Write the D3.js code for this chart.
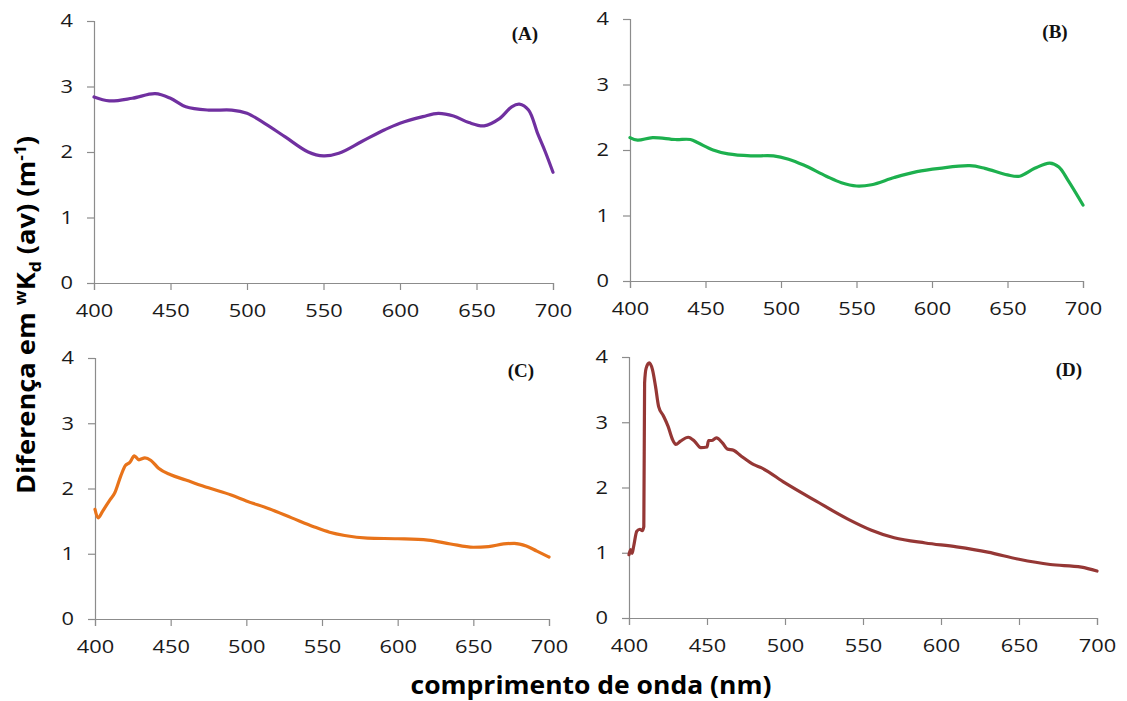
<!DOCTYPE html>
<html>
<head>
<meta charset="utf-8">
<script src="https://cdn.jsdelivr.net/npm/d3@7"></script>
<style>
  html, body { margin: 0; padding: 0; background: #fff; }
  svg { display: block; }
  .tick text { font-family: "Open Sans", "Noto Sans", sans-serif; font-size: 18.5px; fill: #1a1a1a; }
  .domain, .tick line { stroke: #8c8c8c; stroke-width: 1.2; }
</style>
</head>
<body>
<svg id="chart" width="1127" height="701"></svg>
<script>
// Wavelength ticks and value ticks shared by all four panels
const xTicks = [400, 450, 500, 550, 600, 650, 700];
const yTicks = [0, 1, 2, 3, 4];

// (A) difference spectrum
const wlA  = [400, 410, 425, 440, 450, 460, 475, 490, 500, 510, 525, 540, 550, 560, 575, 590, 600, 615, 625, 635, 645, 655, 665, 673, 678, 684, 690, 695, 700];
const valA = [2.84, 2.78, 2.82, 2.89, 2.82, 2.69, 2.64, 2.64, 2.59, 2.46, 2.23, 2.00, 1.94, 1.98, 2.16, 2.34, 2.44, 2.54, 2.59, 2.55, 2.45, 2.40, 2.51, 2.69, 2.73, 2.64, 2.28, 2.00, 1.69];

// (B) difference spectrum
const wlB  = [400, 405, 415, 430, 440, 445, 455, 465, 480, 495, 505, 515, 530, 540, 550, 560, 575, 590, 605, 625, 635, 650, 658, 668, 678, 684, 690, 700];
const valB = [2.19, 2.15, 2.19, 2.16, 2.16, 2.11, 2.00, 1.94, 1.91, 1.91, 1.86, 1.77, 1.60, 1.50, 1.45, 1.47, 1.58, 1.67, 1.72, 1.76, 1.72, 1.62, 1.60, 1.72, 1.80, 1.74, 1.54, 1.16];

// (C) difference spectrum
const wlC  = [400, 402, 405, 410, 413, 417, 420, 423, 426, 429, 433, 437, 442, 450, 460, 475, 490, 500, 515, 530, 545, 555, 565, 580, 600, 620, 635, 650, 660, 670, 677, 685, 692, 700];
const valC = [1.68, 1.55, 1.65, 1.83, 1.93, 2.19, 2.35, 2.40, 2.50, 2.44, 2.47, 2.43, 2.31, 2.21, 2.13, 2.01, 1.90, 1.81, 1.69, 1.55, 1.41, 1.33, 1.28, 1.24, 1.23, 1.21, 1.15, 1.10, 1.11, 1.15, 1.16, 1.12, 1.04, 0.95];

// (D) difference spectrum
const wlD  = [400, 401, 402, 403, 405, 407, 408.5, 409.5, 410, 411, 413, 415, 417, 419, 422, 425, 428, 430, 433, 438, 442, 446, 450, 451, 453, 456, 460, 463, 467, 472, 480, 485, 500, 520, 540, 555, 570, 590, 610, 630, 650, 670, 690, 700];
const valD = [0.97, 1.05, 0.99, 1.10, 1.33, 1.36, 1.34, 1.40, 3.60, 3.83, 3.91, 3.81, 3.55, 3.24, 3.10, 2.94, 2.73, 2.66, 2.71, 2.77, 2.71, 2.61, 2.62, 2.72, 2.72, 2.76, 2.68, 2.59, 2.57, 2.48, 2.35, 2.30, 2.07, 1.79, 1.52, 1.35, 1.23, 1.15, 1.09, 1.01, 0.90, 0.82, 0.78, 0.72];

const panelLabels = ["(A)", "(B)", "(C)", "(D)"];

// Panel frames (plot area in page pixels) and line styles
const panels = [
  { wl: wlA, val: valA, label: panelLabels[0], color: "#7030A0", x0: 94,  x1: 553,  y0: 283, y1: 21,  curve: d3.curveCatmullRom.alpha(0.5) },
  { wl: wlB, val: valB, label: panelLabels[1], color: "#1DB04E", x0: 630, x1: 1083, y0: 281, y1: 19,  curve: d3.curveCatmullRom.alpha(0.5) },
  { wl: wlC, val: valC, label: panelLabels[2], color: "#E8731A", x0: 95,  x1: 549,  y0: 619, y1: 358, curve: d3.curveMonotoneX },
  { wl: wlD, val: valD, label: panelLabels[3], color: "#953735", x0: 629, x1: 1097, y0: 618, y1: 357, curve: d3.curveMonotoneX }
];

// Tick labels are drawn slightly widened horizontally
const stretch = 1.18;

const svg = d3.select("#chart");

panels.forEach(p => {
  const x = d3.scaleLinear().domain([400, 700]).range([p.x0, p.x1]);
  const y = d3.scaleLinear().domain([0, 4]).range([p.y0, p.y1]);
  const g = svg.append("g");

  const gx = g.append("g")
    .attr("transform", `translate(0,${p.y0})`)
    .call(d3.axisBottom(x).tickValues(xTicks).tickSize(7).tickPadding(14).tickFormat(d3.format("d")));
  gx.selectAll(".tick text").attr("transform", `scale(${stretch},1)`);

  const gy = g.append("g")
    .attr("transform", `translate(${p.x0},0)`)
    .call(d3.axisLeft(y).tickValues(yTicks).tickSize(7).tickFormat(d3.format("d")));
  gy.selectAll(".tick text")
    .attr("x", -21 / stretch)
    .attr("transform", `scale(${stretch},1)`);

  const line = d3.line()
    .x((d, i) => x(p.wl[i]))
    .y(d => y(d))
    .curve(p.curve);

  g.append("path")
    .datum(p.val)
    .attr("fill", "none")
    .attr("stroke", p.color)
    .attr("stroke-width", 3.2)
    .attr("stroke-linejoin", "round")
    .attr("stroke-linecap", "round")
    .attr("d", line);

  g.append("text")
    .attr("x", p.x1 - 28)
    .attr("y", p.y1 + 19)
    .attr("text-anchor", "middle")
    .attr("font-family", "'Liberation Serif', 'Times New Roman', serif")
    .attr("font-weight", "bold")
    .attr("font-size", 19)
    .attr("fill", "#111")
    .text(p.label);
});

// Shared axis titles
const yTitle = svg.append("text")
  .attr("transform", "translate(35,315) rotate(-90) scale(1.09,1)")
  .attr("text-anchor", "middle")
  .attr("font-family", "'Open Sans', 'Noto Sans', sans-serif")
  .attr("font-weight", "bold")
  .attr("font-size", 25)
  .attr("fill", "#000");
yTitle.append("tspan").text("Diferença em ");
yTitle.append("tspan").attr("dy", -9).attr("font-size", 16).text("w");
yTitle.append("tspan").attr("dy", 9).text("K");
yTitle.append("tspan").attr("dy", 6).attr("font-size", 16).text("d");
yTitle.append("tspan").attr("dy", -6).text(" (av) (m");
yTitle.append("tspan").attr("dy", -9).attr("font-size", 16).text("-1");
yTitle.append("tspan").attr("dy", 9).text(")");

svg.append("text")
  .attr("transform", "translate(591,694) scale(1.06,1)")
  .attr("text-anchor", "middle")
  .attr("font-family", "'Open Sans', 'Noto Sans', sans-serif")
  .attr("font-weight", "bold")
  .attr("font-size", 25)
  .attr("fill", "#000")
  .text("comprimento de onda (nm)");
</script>
</body>
</html>
